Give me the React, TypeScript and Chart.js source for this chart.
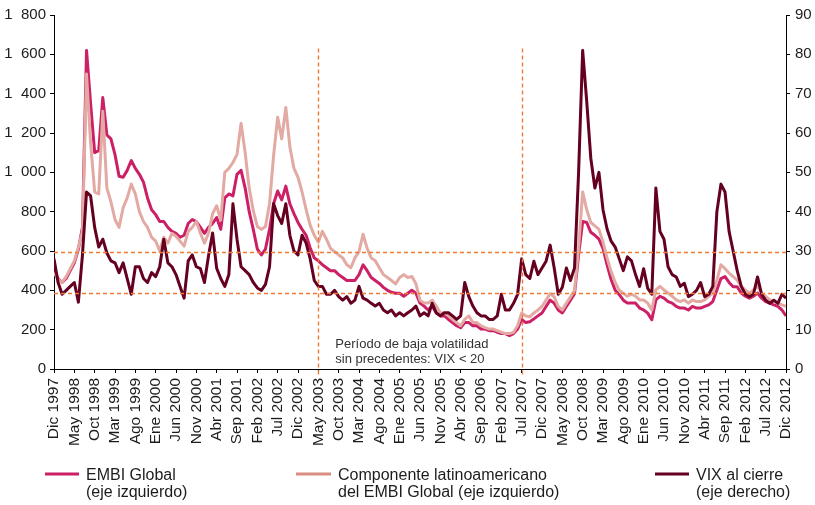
import React, { useEffect, useRef } from "react";
import { Chart, registerables } from "chart.js";

Chart.register(...registerables);

const FONT = '"Liberation Sans", Arial, Helvetica, sans-serif';

// Tick labels (one every 5 months, Dic 1997 .. Dic 2012)
const tickLabels = [
  "Dic 1997", "May 1998", "Oct 1998", "Mar 1999", "Ago 1999", "Ene 2000", "Jun 2000",
  "Nov 2000", "Abr 2001", "Sep 2001", "Feb 2002", "Jul 2002", "Dic 2002", "May 2003",
  "Oct 2003", "Mar 2004", "Ago 2004", "Ene 2005", "Jun 2005", "Nov 2005", "Abr 2006",
  "Sep 2006", "Feb 2007", "Jul 2007", "Dic 2007", "May 2008", "Oct 2008", "Mar 2009",
  "Ago 2009", "Ene 2010", "Jun 2010", "Nov 2010", "Abr 2011", "Sep 2011", "Feb 2012",
  "Jul 2012", "Dic 2012",
];
const monthsPerTick = 5;

// Monthly values, Dic 1997 .. Dic 2012 (181 months)
const embiGlobal = [
  500,
  460, 440, 460, 500, 540, 610, 720, 1620, 1350, 1100, 1110, 1380,
  1190, 1170, 1090, 980, 975, 1010, 1060, 1020, 990, 950, 870, 810,
  785, 750, 750, 720, 700, 690, 670, 680, 740, 760, 750, 720,
  690, 720, 740, 770, 710, 870, 890, 880, 990, 1010, 920, 800,
  710, 610, 580, 610, 710, 840, 905, 860, 930, 840, 790, 745,
  710, 680, 615, 565, 550, 530, 515, 500, 500, 480, 465, 450,
  450, 450, 480, 530, 500, 465, 450, 435, 415, 400, 390, 385,
  385, 370, 385, 400, 385, 335, 320, 300, 320, 285, 270, 270,
  252, 236, 220, 210, 236, 236, 220, 220, 203, 203, 195, 195,
  187, 180, 180, 170, 180, 203, 252, 236, 240, 255, 270, 285,
  318, 350, 335, 300, 285, 318, 350, 383, 580, 750, 745, 695,
  680, 660, 613, 530, 455, 400, 378, 350, 335, 335, 335, 310,
  300, 284, 250, 351, 370, 360, 343, 335, 318, 310, 310, 300,
  318, 310, 310, 318, 326, 343, 402, 460, 470, 440, 418, 418,
  386, 370, 360, 370, 386, 360, 343, 335, 326, 318, 300, 270,
];

const embiLatam = [
  490,
  455, 440, 470, 510, 550, 620, 700, 1500, 1150, 900, 890, 1310,
  920, 850, 760, 720, 820, 870, 940, 890, 800, 750, 720, 670,
  650, 600, 670, 640, 690, 675, 650, 625, 700, 720, 750, 690,
  640, 690, 790, 830, 757, 1000, 1020, 1050, 1090, 1250, 1100, 920,
  805, 725, 710, 725, 840, 1085, 1280, 1170, 1330, 1130, 1020, 975,
  900, 810, 730, 680, 645, 700, 660, 613, 597, 580, 565, 530,
  515, 565, 597, 685, 613, 565, 550, 515, 480, 465, 450, 433,
  465, 480, 465, 470, 433, 350, 335, 335, 350, 320, 285, 285,
  270, 252, 236, 220, 252, 270, 236, 236, 220, 210, 203, 203,
  195, 187, 180, 180, 187, 220, 285, 270, 265, 285, 300, 318,
  350, 383, 367, 318, 300, 335, 367, 400, 613, 900, 810, 745,
  728, 710, 645, 565, 495, 440, 400, 385, 370, 380, 370, 351,
  351, 335, 300, 402, 420, 402, 386, 370, 351, 343, 351, 335,
  351, 343, 343, 351, 370, 386, 452, 530, 510, 488, 470, 452,
  420, 402, 386, 402, 420, 386, 370, 351, 343, 335, 326, 318,
];

const vixClose = [
  28,
  22, 19, 20, 21, 22, 17, 29, 45, 44, 36, 31, 33,
  29.5, 27.5, 27, 24.5, 27, 23, 19, 26, 26, 23, 22, 24.5,
  23.5, 26, 33, 27, 26, 24, 21, 18, 27.5, 29, 26, 25.5,
  22, 28.8, 34.6, 25.6, 23, 21, 24, 42, 33, 26, 25, 24,
  22, 20.6, 20, 21.5, 26, 42, 39, 37, 42, 34, 30, 29,
  34, 32, 28, 22.5, 21, 21, 19, 19, 20, 18.4, 17.5, 18.4,
  16.7, 17.5, 21, 18, 17.5, 16.7, 16, 16.7, 15, 14.3, 15, 13.5,
  14.3, 13.5, 14.3, 15, 16, 13.5, 14.3, 13.5, 16.7, 14.3, 13.5, 14.3,
  14.3, 13.5, 12.6, 13.5, 22, 18.4, 16, 14.3, 13.5, 13.5, 12.6, 12.6,
  13.5, 19, 15, 15, 16.7, 19, 28, 24, 23, 27.4, 24, 25.7,
  27.4, 31.5, 25.7, 19, 20.8, 25.7, 22.5, 25.7, 50, 81, 68, 53.6,
  46, 50, 40.5, 35.6, 32.5, 31, 28, 25, 28.5, 27.5, 24, 21,
  25.5, 20.5, 19, 46, 35, 33, 26, 24, 23.4, 21, 21.8, 18.4,
  19, 20, 22, 18.4, 19, 21, 40, 47, 45, 35, 30, 25,
  21, 19, 18.4, 19, 23.4, 19, 17.5, 16.7, 17.5, 16.7, 19, 18,
];

const seriesLabels = [
  ["EMBI Global", "(eje izquierdo)"],
  ["Componente latinoamericano", "del EMBI Global (eje izquierdo)"],
  ["VIX al cierre", "(eje derecho)"],
];
const annotationLines = ["Período de baja volatilidad", "sin precedentes: VIX < 20"];
const periodBounds = ["May 2003", "Jul 2007"];
const thresholdValues = [596, 387];
const periodLineTop = 1630;

const COLORS = {
  embi: "#cc1f66",
  latam: "#e2aaa2",
  latamLegend: "#d98c82",
  vix: "#650020",
  dash: "#f07a35",
  text: "#1c1c1c",
};

const toPoints = (arr: number[]) => arr.map((v, i) => ({ x: i, y: v }));

const fmtLeft = (v: number) =>
  v >= 1000 ? `${Math.floor(v / 1000)}\u2007${String(v % 1000).padStart(3, "0")}` : String(v);

const legendLayout = [
  { color: COLORS.embi, x0: 45, x1: 79, tx: 86 },
  { color: COLORS.latamLegend, x0: 296, x1: 331, tx: 338 },
  { color: COLORS.vix, x0: 655, x1: 689, tx: 696 },
];

const overlayPlugin = {
  id: "overlay",
  afterDatasetsDraw(chart: any) {
    const { ctx, chartArea, scales } = chart;
    const xs = scales.x;
    const ys = scales.y;
    ctx.save();
    ctx.strokeStyle = COLORS.dash;
    ctx.lineWidth = 1.4;
    ctx.setLineDash([4, 3]);
    thresholdValues.forEach((v) => {
      const py = Math.round(ys.getPixelForValue(v)) + 0.5;
      ctx.beginPath();
      ctx.moveTo(chartArea.left, py);
      ctx.lineTo(chartArea.right, py);
      ctx.stroke();
    });
    periodBounds.forEach((lbl) => {
      const px = Math.round(xs.getPixelForValue(tickLabels.indexOf(lbl) * monthsPerTick)) + 0.5;
      ctx.beginPath();
      ctx.moveTo(px, ys.getPixelForValue(periodLineTop));
      ctx.lineTo(px, chartArea.bottom + 6);
      ctx.stroke();
    });
    ctx.setLineDash([]);
    const ax = xs.getPixelForValue(tickLabels.indexOf(periodBounds[0]) * monthsPerTick) + 17;
    ctx.fillStyle = "#333333";
    ctx.font = `13px ${FONT}`;
    ctx.textAlign = "left";
    ctx.textBaseline = "alphabetic";
    ctx.fillText(annotationLines[0], ax, chartArea.bottom - 21);
    ctx.fillText(annotationLines[1], ax, chartArea.bottom - 6);
    ctx.restore();
  },
  afterDraw(chart: any) {
    const { ctx } = chart;
    ctx.save();
    ctx.font = `16px ${FONT}`;
    ctx.fillStyle = COLORS.text;
    ctx.textAlign = "left";
    ctx.textBaseline = "alphabetic";
    legendLayout.forEach((it, i) => {
      ctx.strokeStyle = it.color;
      ctx.lineWidth = 3;
      ctx.beginPath();
      ctx.moveTo(it.x0, 474);
      ctx.lineTo(it.x1, 474);
      ctx.stroke();
      ctx.fillText(seriesLabels[i][0], it.tx, 480);
      ctx.fillText(seriesLabels[i][1], it.tx, 497);
    });
    ctx.restore();
  },
};

export default function App() {
  const ref = useRef<HTMLCanvasElement | null>(null);
  useEffect(() => {
    if (!ref.current) return;
    const tickFont = { family: FONT, size: 15 };
    const lineStyle = { borderWidth: 3, pointRadius: 0, tension: 0, borderJoinStyle: "round" as const };
    const chart = new Chart(ref.current, {
      type: "line",
      data: {
        datasets: [
          {
            label: seriesLabels[2].join(" "),
            data: toPoints(vixClose),
            yAxisID: "y1",
            borderColor: COLORS.vix,
            order: 0,
            ...lineStyle,
          },
          {
            label: seriesLabels[1].join(" "),
            data: toPoints(embiLatam),
            yAxisID: "y",
            borderColor: COLORS.latam,
            order: 1,
            ...lineStyle,
          },
          {
            label: seriesLabels[0].join(" "),
            data: toPoints(embiGlobal),
            yAxisID: "y",
            borderColor: COLORS.embi,
            order: 2,
            ...lineStyle,
          },
        ],
      },
      options: {
        responsive: false,
        animation: false,
        devicePixelRatio: 1,
        layout: { padding: { top: 15, left: 0, right: 0, bottom: 0 } },
        plugins: { legend: { display: false }, tooltip: { enabled: false } },
        scales: {
          x: {
            type: "linear",
            min: 0,
            max: (tickLabels.length - 1) * monthsPerTick,
            offset: false,
            grid: { drawOnChartArea: false, drawTicks: true, tickLength: 4, color: "#000" },
            border: { display: true, color: "#000", width: 1 },
            ticks: {
              stepSize: monthsPerTick,
              maxTicksLimit: 100,
              autoSkip: false,
              minRotation: 90,
              maxRotation: 90,
              padding: 5,
              color: COLORS.text,
              font: { family: FONT, size: 15.5 },
              callback: (v: any) => tickLabels[Math.round(Number(v) / monthsPerTick)] ?? "",
            },
            afterFit: (s: any) => {
              s.height = 136;
            },
          },
          y: {
            position: "left",
            min: 0,
            max: 1800,
            grid: { drawOnChartArea: false, drawTicks: true, tickLength: 4, color: "#000" },
            border: { display: true, color: "#000", width: 1 },
            ticks: {
              stepSize: 200,
              padding: 4,
              color: COLORS.text,
              font: tickFont,
              callback: (v: any) => fmtLeft(Number(v)),
            },
            afterFit: (s: any) => {
              s.width = 54;
            },
          },
          y1: {
            position: "right",
            min: 0,
            max: 90,
            grid: { drawOnChartArea: false, drawTicks: true, tickLength: 4, color: "#000" },
            border: { display: true, color: "#000", width: 1 },
            ticks: {
              stepSize: 10,
              padding: 5,
              color: COLORS.text,
              font: tickFont,
            },
            afterFit: (s: any) => {
              s.width = 29;
            },
          },
        },
      },
      plugins: [overlayPlugin],
    });
    return () => chart.destroy();
  }, []);
  return (
    <div style={{ position: "absolute", left: 0, top: 0, width: 815, height: 505, background: "#fff" }}>
      <canvas ref={ref} width={815} height={505} style={{ display: "block" }} />
    </div>
  );
}
